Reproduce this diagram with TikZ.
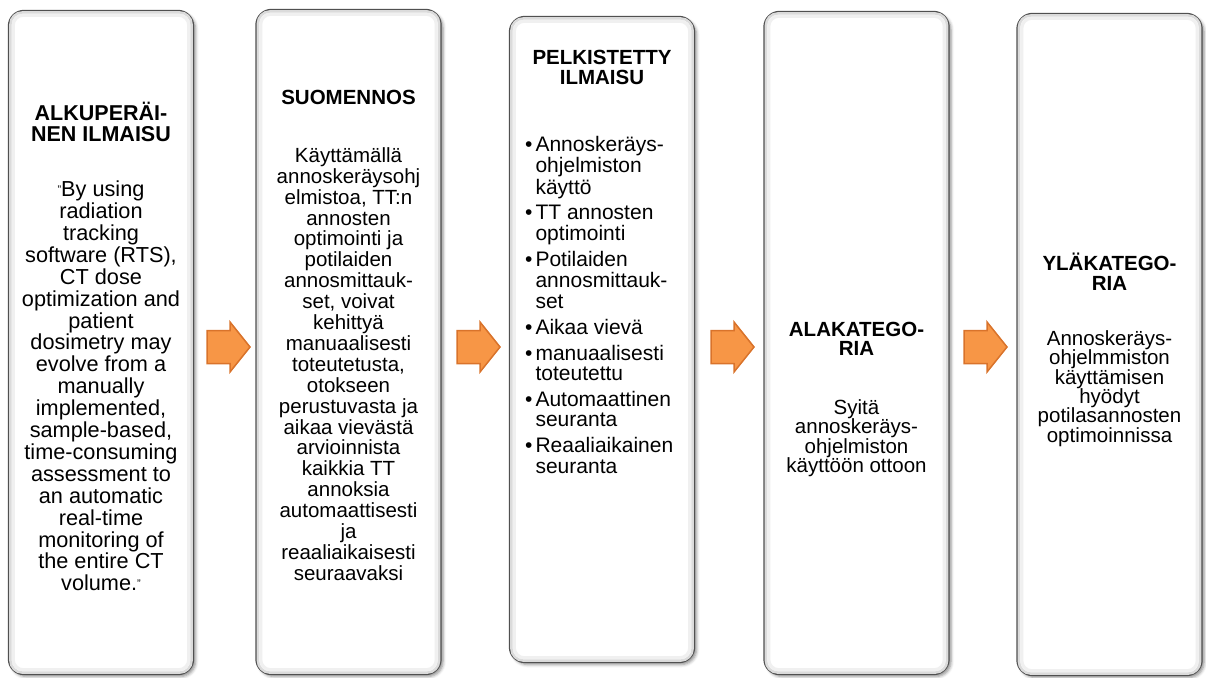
\documentclass[tikz,border=0pt]{standalone}
\usepackage{fontspec}
\setmainfont{Liberation Sans}
\usetikzlibrary{shadows.blur}
\definecolor{frame}{HTML}{505050}
\definecolor{arrfill}{HTML}{F79646}
\definecolor{arrline}{HTML}{D9732B}
\newcommand{\smallq}{{\fontsize{11}{11}\selectfont\raisebox{3pt}{"}}}
\begin{document}
\begin{tikzpicture}[x=1pt,y=-1pt,
  card/.style={draw=frame, line width=2.4pt, rounded corners=15pt, fill=white,
    minimum width=184pt, inner sep=0pt,
    blur shadow={shadow xshift=2.5pt, shadow yshift=-2.5pt, shadow blur radius=3pt, shadow opacity=45}},
  glow/.style={draw=black!14, line width=2.5pt, rounded corners=12pt},
  glowsoft/.style={draw=black!6, line width=3pt, rounded corners=10pt},
  head/.style={font=\fontsize{20.5}{19.5}\selectfont\bfseries, align=center, inner sep=0pt},
  body/.style={font=\fontsize{20.5}{21.9}\selectfont, align=center, inner sep=0pt},
  flow/.style={draw=arrline, fill=arrfill, line width=1.5pt, line join=miter}]
\useasboundingbox (0,0) rectangle (1206,677);

% the five columns
\node[card, minimum height=663pt] (c1) at (101,342.5) {};
\node[card, minimum height=664pt] (c2) at (348.5,342) {};
\node[card, minimum height=645pt] (c3) at (602,339.5) {};
\node[card, minimum height=662pt] (c4) at (856.5,343) {};
\node[card, minimum height=661pt] (c5) at (1109.5,344.5) {};

% soft inner bevel along each frame
\foreach \c in {c1,c2,c3,c4,c5}{
  \draw[glowsoft] ([shift={(5.5,5.5)}]\c.north west) rectangle ([shift={(-5.5,-5.5)}]\c.south east);
  \draw[glow] ([shift={(2.6,2.6)}]\c.north west) rectangle ([shift={(-2.6,-2.6)}]\c.south east);
}

% block arrows between the columns (anchored at their left ends)
\coordinate (a1) at (207,347);
\coordinate (a2) at (457,347);
\coordinate (a3) at (711,347);
\coordinate (a4) at (964,347);
\foreach \a in {a1,a2,a3,a4}{
  \path[flow, shift={(\a)}] (0,-16.5) -- (23,-16.5) -- (23,-25) -- (43,0)
    -- (23,25) -- (23,16.5) -- (0,16.5) -- cycle;
}

% column 1
\node[head, font=\fontsize{21.5}{20.5}\selectfont\bfseries] (h1) at (101,122) {ALKUPERÄI-\\NEN ILMAISU};
\node[body, font=\fontsize{21.7}{21.9}\selectfont] (t1) at (101,386) {\smallq By using\\radiation\\tracking\\software (RTS),\\CT dose\\optimization and\\patient\\dosimetry may\\evolve from a\\manually\\implemented,\\sample-based,\\time-consuming\\assessment to\\an automatic\\real-time\\monitoring of\\the entire CT\\volume.\smallq};

% column 2
\node[head] (h2) at (348.5,97) {SUOMENNOS};
\node[body, font=\fontsize{20.5}{20.9}\selectfont] (t2) at (348.5,364) {Käyttämällä\\annoskeräysohj\\elmistoa, TT:n\\annosten\\optimointi ja\\potilaiden\\annosmittauk-\\set, voivat\\kehittyä\\manuaalisesti\\toteutetusta,\\otokseen\\perustuvasta ja\\aikaa vievästä\\arvioinnista\\kaikkia TT\\annoksia\\automaattisesti\\ja\\reaaliaikaisesti\\seuraavaksi};

% column 3
\node[head] (h3) at (602,67.5) {PELKISTETTY\\ILMAISU};
\node[inner sep=0pt, anchor=north west, font=\fontsize{21}{20.5}\selectfont] (t3) at (525,136) {%
\begin{tabular}{@{}l@{\hspace{3pt}}l@{}}
• & Annoskeräys-\\
  & ohjelmiston\\
  & käyttö\\[4.5pt]
• & TT annosten\\
  & optimointi\\[4.5pt]
• & Potilaiden\\
  & annosmittauk-\\
  & set\\[4.5pt]
• & Aikaa vievä\\[4.5pt]
• & manuaalisesti\\
  & toteutettu\\[4.5pt]
• & Automaattinen\\
  & seuranta\\[4.5pt]
• & Reaaliaikainen\\
  & seuranta
\end{tabular}};

% column 4
\node[head] (h4) at (856.5,339) {ALAKATEGO-\\RIA};
\node[body, font=\fontsize{20.5}{19.4}\selectfont] (t4) at (856.5,438) {Syitä\\annoskeräys-\\ohjelmiston\\käyttöön ottoon};

% column 5
\node[head] (h5) at (1109.5,271.5) {YLÄKATEGO-\\RIA};
\node[body, font=\fontsize{20.5}{19.4}\selectfont] (t5) at (1109.5,388.5) {Annoskeräys-\\ohjelmmiston\\käyttämisen\\hyödyt\\potilasannosten\\optimoinnissa};
\end{tikzpicture}
\end{document}
